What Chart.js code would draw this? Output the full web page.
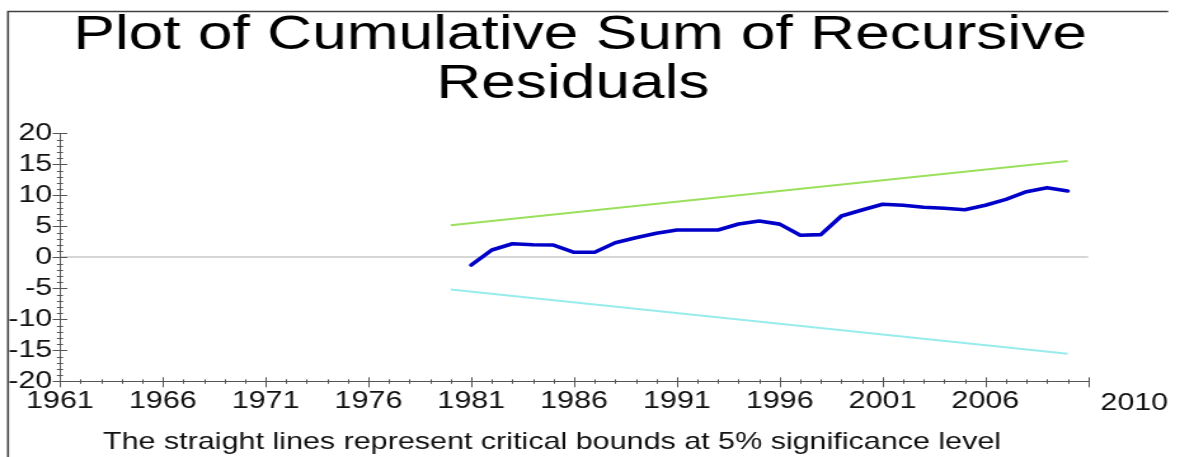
<!DOCTYPE html>
<html>
<head>
<meta charset="utf-8">
<script src="https://cdn.jsdelivr.net/npm/chart.js@4/dist/chart.umd.min.js"></script>
<style>
  html, body { margin: 0; padding: 0; background: #ffffff; overflow: hidden; }
  #wrap { width: 1180px; height: 457px; overflow: hidden; }
  /* the plot is laid out on a narrower canvas and widened horizontally */
  #cusum { display: block; transform: scaleX(1.2702); transform-origin: 0 0; }
</style>
</head>
<body>
<div id="wrap"><canvas id="cusum" width="929" height="457"></canvas></div>
<script>
// CUSUM of recursive residuals, 1981-2010
const years = [1981, 1982, 1983, 1984, 1985, 1986, 1987, 1988, 1989, 1990,
               1991, 1992, 1993, 1994, 1995, 1996, 1997, 1998, 1999, 2000,
               2001, 2002, 2003, 2004, 2005, 2006, 2007, 2008, 2009, 2010];
const cusum = [-1.24, 1.18, 2.19, 2.03, 1.98, 0.81, 0.81, 2.35, 3.16, 3.87,
               4.40, 4.40, 4.40, 5.37, 5.85, 5.35, 3.55, 3.65, 6.66, 7.63,
               8.55, 8.39, 8.06, 7.90, 7.68, 8.39, 9.35, 10.58, 11.23, 10.69];

// 5% critical bounds (straight lines between the end points)
const boundYears = [1980, 2010];
const upperBound = [5.18, 15.54];
const lowerBound = [-5.18, -15.54];

// axis ticks
const xTickYears = [1961, 1966, 1971, 1976, 1981, 1986, 1991, 1996, 2001, 2006, 2011];
const xTickLabels = ['1961', '1966', '1971', '1976', '1981', '1986', '1991', '1996', '2001', '2006', ''];
const xEndLabel = '2010';
const yMin = -20, yMax = 20, yStep = 5;

const titleLines = ['Plot of Cumulative Sum of Recursive', 'Residuals'];
const footNote = 'The straight lines represent critical bounds at 5% significance level';

const FONT = '"Liberation Sans", Arial, sans-serif';
const AXIS = '#555555';
const LABEL = 24;

const pts = (xs, ys) => xs.map((x, i) => ({ x: x, y: ys[i] }));

// frame, cross ticks, minor ticks, title and footnote
const decorations = {
  id: 'decorations',
  afterDraw(chart) {
    const ctx = chart.ctx;
    const xs = chart.scales.x, ys = chart.scales.y;
    const x0 = xs.getPixelForValue(1961);
    const yAxisY = ys.getPixelForValue(yMin);
    ctx.save();

    // outer frame (top and left edges)
    ctx.strokeStyle = '#404040';
    ctx.lineWidth = 1.6;
    ctx.beginPath();
    ctx.moveTo(6.3, 457);
    ctx.lineTo(6.3, 11.5);
    ctx.lineTo(919.7, 11.5);
    ctx.stroke();

    // x-axis ticks: minor every year, major every five
    ctx.strokeStyle = AXIS;
    ctx.lineWidth = 1;
    ctx.beginPath();
    for (let yr = 1961; yr <= 2011; yr++) {
      const px = Math.round(xs.getPixelForValue(yr)) + 0.5;
      const major = xTickYears.includes(yr);
      ctx.moveTo(px, yAxisY - (major ? 4 : 2));
      ctx.lineTo(px, yAxisY + (major ? 6 : 2.5));
    }
    // y-axis ticks: minor every unit, major every five
    for (let v = yMin; v <= yMax; v++) {
      const py = Math.round(ys.getPixelForValue(v)) + 0.5;
      const major = v % yStep === 0;
      ctx.moveTo(x0 - (major ? 5.8 : 2.4), py);
      ctx.lineTo(x0 + (major ? 5.8 : 2.4), py);
    }
    ctx.stroke();

    // last year label, set to the right of the axis end
    ctx.fillStyle = '#111111';
    ctx.font = LABEL + 'px ' + FONT;
    ctx.textAlign = 'center';
    ctx.textBaseline = 'alphabetic';
    ctx.fillText(xEndLabel, 893, 410);

    // title
    ctx.fillStyle = '#000000';
    ctx.font = '49px ' + FONT;
    ctx.fillText(titleLines[0], 456.7, 48.5);
    ctx.fillText(titleLines[1], 451, 97.5);

    // footnote
    ctx.fillStyle = '#111111';
    ctx.font = '24px ' + FONT;
    ctx.fillText(footNote, 434.6, 449);
    ctx.restore();
  }
};

new Chart(document.getElementById('cusum'), {
  type: 'line',
  data: {
    datasets: [
      {
        label: 'Upper bound',
        data: pts(boundYears, upperBound),
        borderColor: '#9be05c',
        borderWidth: 2,
        pointRadius: 0,
        tension: 0
      },
      {
        label: 'Lower bound',
        data: pts(boundYears, lowerBound),
        borderColor: '#98ecec',
        borderWidth: 2,
        pointRadius: 0,
        tension: 0
      },
      {
        label: 'CUSUM',
        data: pts(years, cusum),
        borderColor: '#0000c8',
        borderWidth: 3.6,
        pointRadius: 0,
        tension: 0,
        borderJoinStyle: 'round',
        borderCapStyle: 'round'
      }
    ]
  },
  options: {
    responsive: false,
    animation: false,
    devicePixelRatio: 1,
    layout: { padding: { top: 133.3, left: 0, right: 72.3, bottom: 0 } },
    plugins: {
      legend: { display: false },
      title: { display: false },
      tooltip: { enabled: false }
    },
    scales: {
      x: {
        type: 'linear',
        min: 1961,
        max: 2011,
        afterFit(scale) { scale.height = 457 - 381.3; },
        afterBuildTicks(scale) { scale.ticks = xTickYears.map(v => ({ value: v })); },
        grid: { display: false, drawTicks: false },
        border: { display: true, color: AXIS, width: 1 },
        ticks: {
          autoSkip: false,
          maxRotation: 0,
          padding: 6,
          color: '#111111',
          font: { family: FONT, size: LABEL },
          callback(value) {
            const i = xTickYears.indexOf(value);
            return i >= 0 ? xTickLabels[i] : '';
          }
        }
      },
      y: {
        type: 'linear',
        min: yMin,
        max: yMax,
        afterFit(scale) { scale.width = 47.2; },
        grid: {
          drawTicks: false,
          lineWidth: 2,
          color: (c) => (c.tick && c.tick.value === 0 ? '#d6d6d6' : 'rgba(0,0,0,0)')
        },
        border: { display: true, color: AXIS, width: 1 },
        ticks: {
          stepSize: yStep,
          autoSkip: false,
          padding: 6,
          color: '#111111',
          font: { family: FONT, size: LABEL }
        }
      }
    }
  },
  plugins: [decorations]
});
</script>
</body>
</html>
